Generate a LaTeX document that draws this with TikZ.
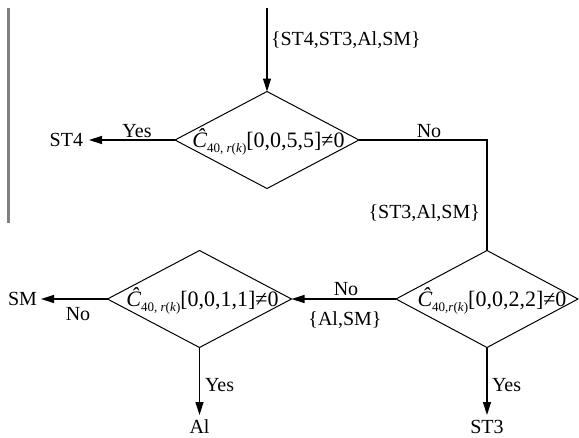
\documentclass[tikz,border=0pt]{standalone}
\usepackage{fontspec}
\setmainfont{Liberation Serif}
\usetikzlibrary{shapes.geometric,arrows.meta}
\newcommand{\lowsub}[1]{\raisebox{-5pt}{\fontsize{13}{13}\selectfont #1}}
\newcommand{\chat}{{\itshape Ĉ}}
\definecolor{scangray}{RGB}{128,128,128}
\begin{document}
\begin{tikzpicture}[x=1pt,y=-1pt,
  every node/.style={font=\fontsize{20}{24}\selectfont, inner sep=0pt, outer sep=0pt},
  dia/.style={draw, diamond, minimum width=184pt, minimum height=97pt, line width=1pt},
  formula/.style={font=\fontsize{22}{26}\selectfont, anchor=base},
  arr/.style={line width=1.4pt, -{Triangle[length=13pt,width=8pt]}},
  conn/.style={line width=1.4pt},
  scanline/.style={draw=scangray, line width=2.5pt}]
\useasboundingbox (0,0) rectangle (579,437);
% margin rule
\coordinate (g1) at (8.7,8);
\coordinate (g2) at (8.7,223);
\draw[scanline] (g1) -- (g2);
% decisions
\node[dia] (d1) at (267,140) {};
\node[formula] (f1) at (268.5,147) {\chat\lowsub{40, \textit{r}(\textit{k})}[0,0,5,5]≠0};
\node[dia, minimum width=182pt] (d2) at (487,299) {};
\node[formula] (f2) at (492,306) {\chat\lowsub{40,\textit{r}(\textit{k})}[0,0,2,2]≠0};
\node[dia] (d3) at (199.5,299) {};
\node[formula] (f3) at (202.5,306) {\chat\lowsub{40, \textit{r}(\textit{k})}[0,0,1,1]≠0};
% terminals and labels
\coordinate (in) at (267,8);
\node[anchor=base west] (setA) at (271,45) {\{ST4,ST3,Al,SM\}};
\node[anchor=east, inner xsep=6pt] (st4) at (89,140) {ST4};
\node[anchor=base] (yes1) at (137,137) {Yes};
\node[anchor=base] (no1) at (429,137) {No};
\node[anchor=base east] (setB) at (480,218) {\{ST3,Al,SM\}};
\node[anchor=base] (no2) at (346,295) {No};
\node[anchor=base] (setC) at (345,325) {\{Al,SM\}};
\node[anchor=east, inner xsep=4pt] (sm) at (41,299) {SM};
\node[anchor=base] (no3) at (78,320) {No};
\node[anchor=north, inner ysep=5pt] (al) at (199.5,415) {Al};
\node[anchor=base west] (yes2) at (205,391) {Yes};
\node[anchor=north, inner ysep=5pt] (st3) at (487,415) {ST3};
\node[anchor=base west] (yes3) at (492,391) {Yes};
% connectors
\draw[arr] (in) -- (d1.north);
\draw[arr] (d1.west) -- (st4.east);
\draw[conn] (d1.east) -| (d2.north);
\draw[arr] (d2.west) -- (d3.east);
\draw[arr] (d3.west) -- (sm.east);
\draw[arr] (d3.south) -- (al.north);
\draw[arr] (d2.south) -- (st3.north);
\end{tikzpicture}
\end{document}
